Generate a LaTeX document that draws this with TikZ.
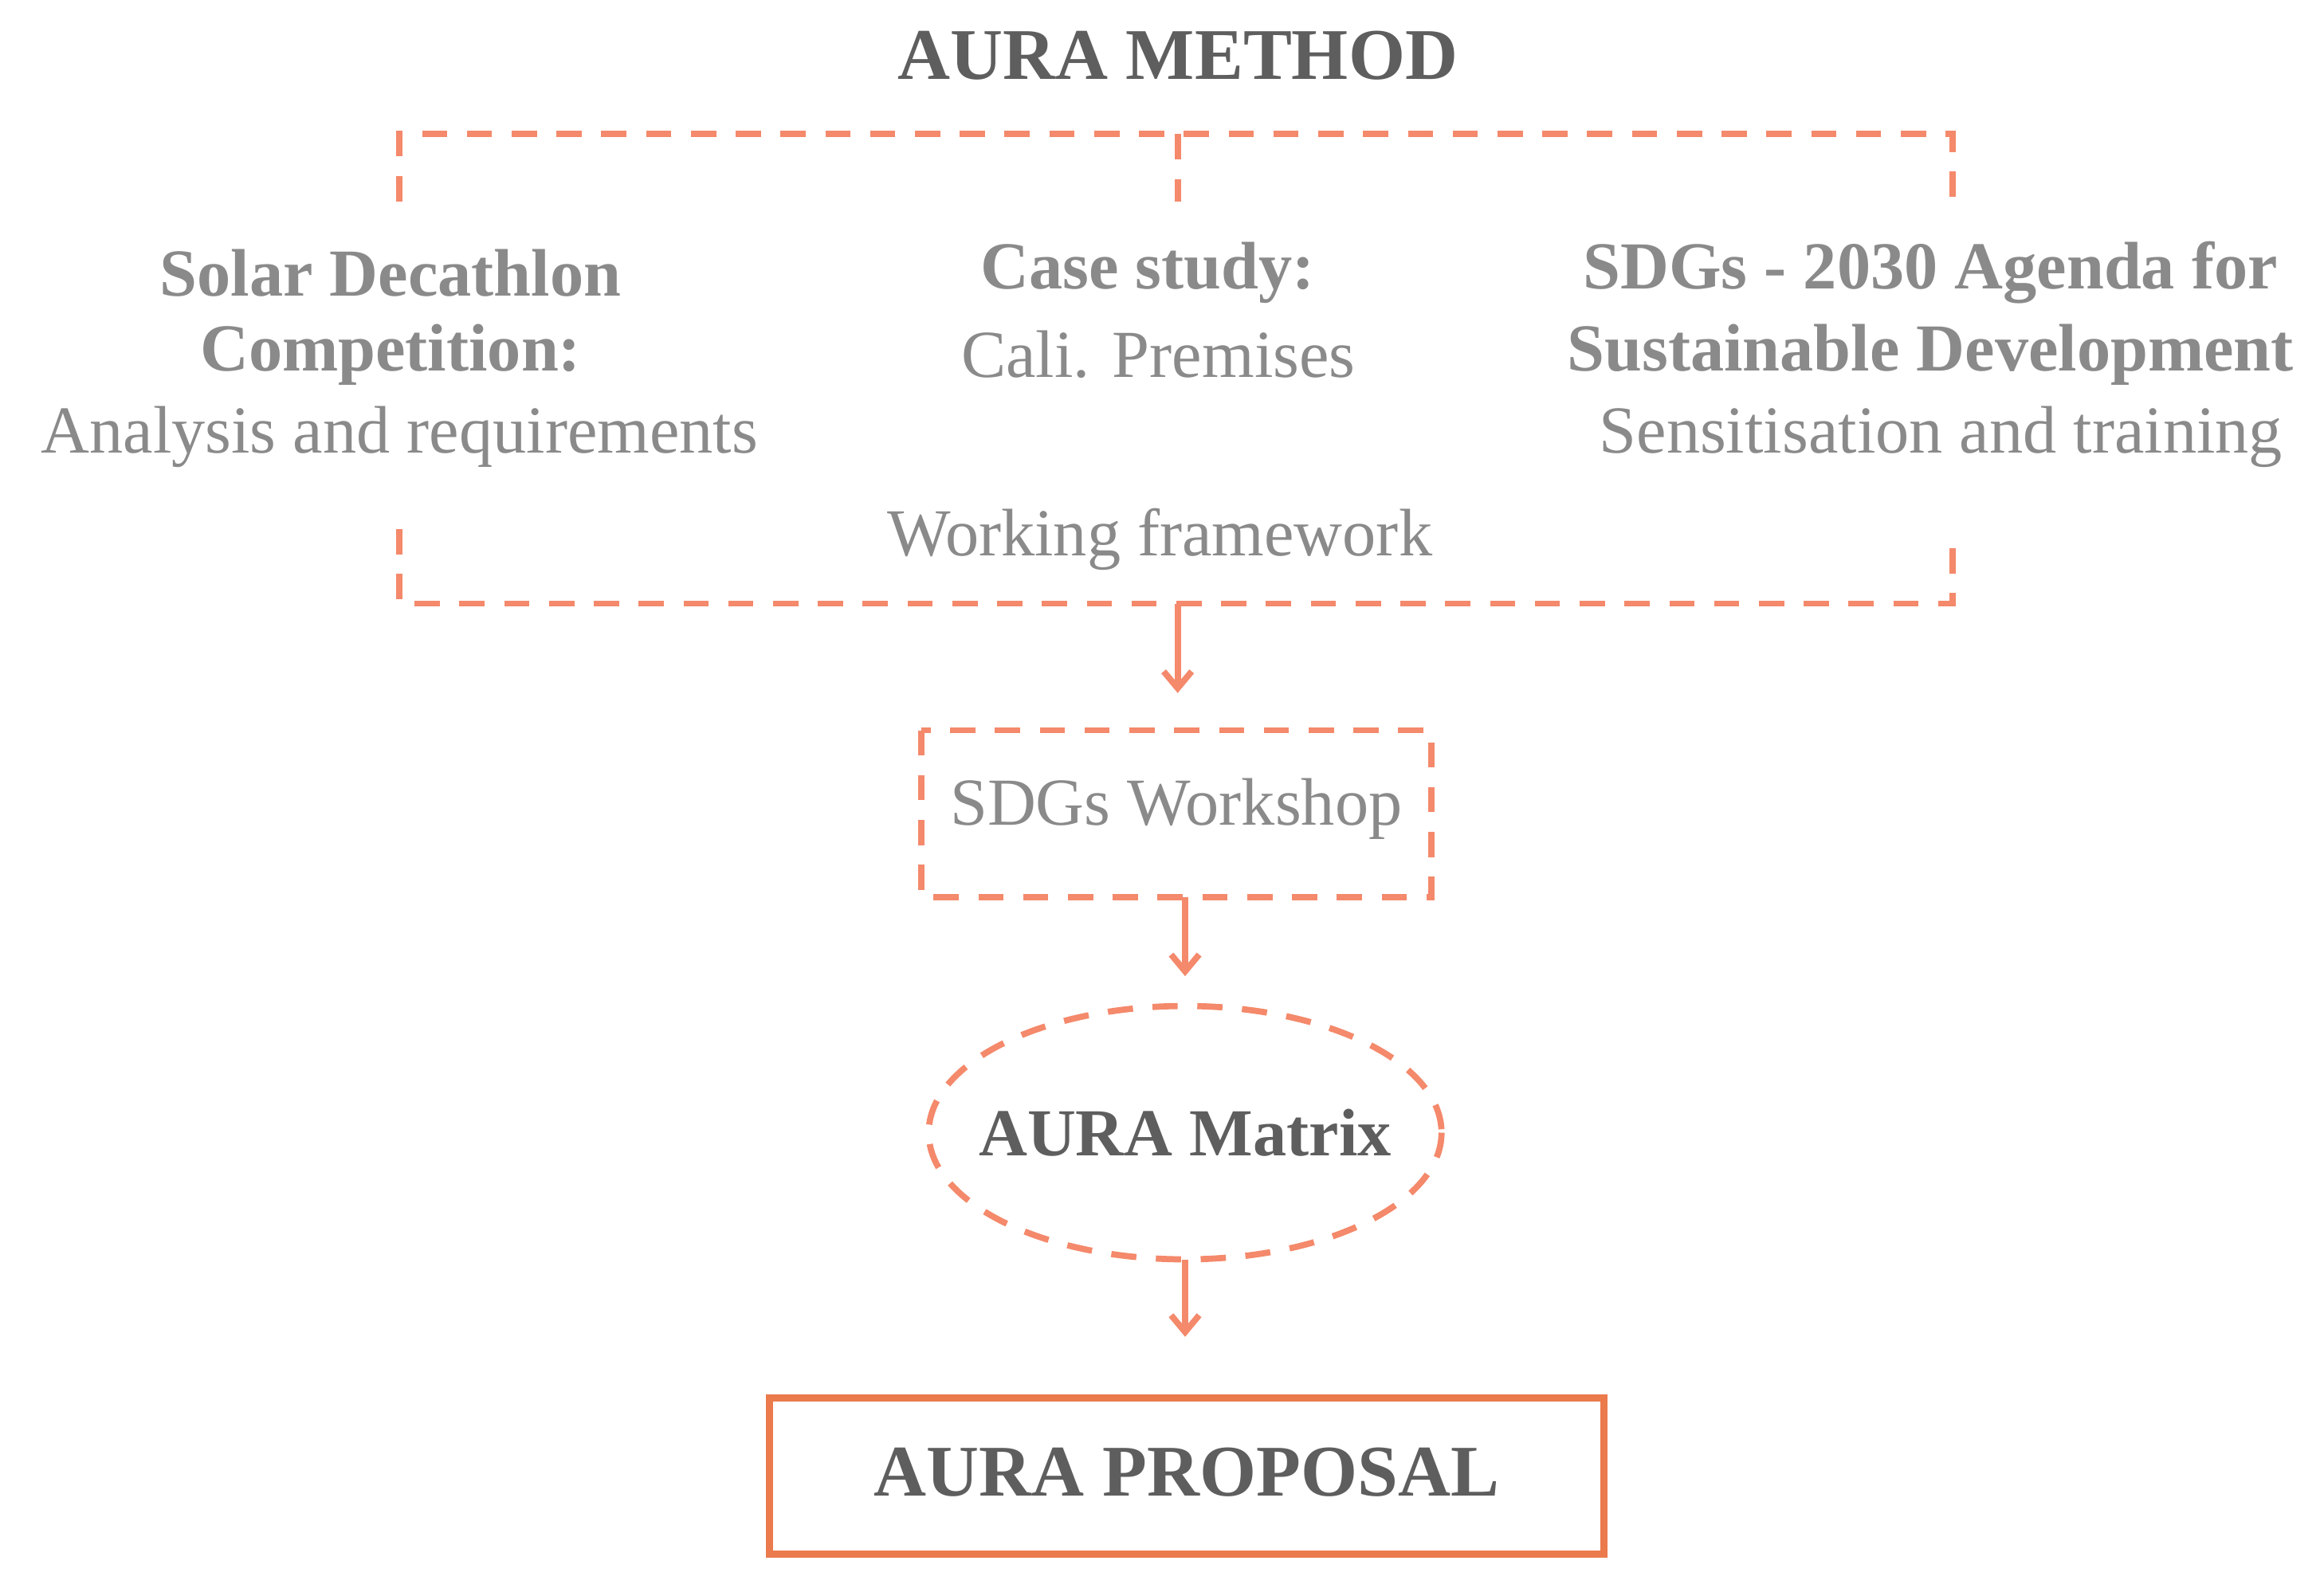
\documentclass[tikz,border=0pt]{standalone}
\usepackage{fontspec}
\setmainfont{Liberation Serif}
\usetikzlibrary{shapes.geometric,arrows.meta}
\definecolor{org}{HTML}{F4896B}
\definecolor{org2}{HTML}{EB7A4C}
\definecolor{txt}{HTML}{8A8A8A}
\definecolor{txtb}{HTML}{5E5E5E}
\begin{document}
\begin{tikzpicture}[x=0.0187cm,y=-0.0187cm,
  dsh/.style={draw=org,line width=2.2pt,dash pattern=on 9pt off 7pt},
  arr/.style={draw=org,line width=2.2pt,-{Straight Barb[length=6pt,width=10pt]}},
  t/.style={text=txt,font=\fontsize{24}{29}\selectfont,align=center,inner sep=0pt},
  tb/.style={text=txt,font=\fontsize{24}{29}\selectfont\bfseries,align=center,inner sep=0pt}]
\useasboundingbox (0,0) rectangle (1559,1065);
\node[text=txtb,font=\fontsize{26}{30}\selectfont\bfseries] (title) at (790,37) {AURA METHOD};
\draw[dsh] (268,135) -- (268,90) -- (1310,90) -- (1310,135);
\draw[dsh] (790,90) -- (790,135);
\draw[dsh] (268,355) -- (268,405) -- (1310,405) -- (1310,355);
\coordinate (b) at (790,405);
\node[tb] (s1) at (262,183) {Solar Decathlon};
\node[tb] (s2) at (262,238) {Competition:};
\node[t] (s3) at (268,293) {Analysis and requirements};
\node[tb] (c1) at (770,183) {Case study:};
\node[t] (c2) at (777,238) {Cali. Premises};
\node[tb] (g1) at (1295,183) {SDGs - 2030 Agenda for};
\node[tb] (g2) at (1295,238) {Sustainable Development};
\node[t] (g3) at (1302,293) {Sensitisation and training};
\node[t] (wf) at (778,362) {Working framework};
\draw[dsh] (618,490) rectangle (960,602);
\node[t] (ws) at (789,543) {SDGs Workshop};
\coordinate (wsT) at (790,465);
\draw[arr] (b) -- (wsT);
\coordinate (wsB) at (795,602);
\coordinate (mT) at (795,655);
\draw[arr] (wsB) -- (mT);
\draw[dsh] (795,760) ellipse [x radius=172,y radius=85];
\node[text=txtb,font=\fontsize{24}{29}\selectfont\bfseries] (m) at (795,760) {AURA Matrix};
\coordinate (mB) at (795,845);
\coordinate (pT) at (795,897);
\draw[arr] (mB) -- (pT);
\draw[draw=org2,line width=2.6pt] (516,938) rectangle (1076,1043);
\node[text=txtb,font=\fontsize{26}{30}\selectfont\bfseries] (p) at (796,988) {AURA PROPOSAL};
\end{tikzpicture}
\end{document}
